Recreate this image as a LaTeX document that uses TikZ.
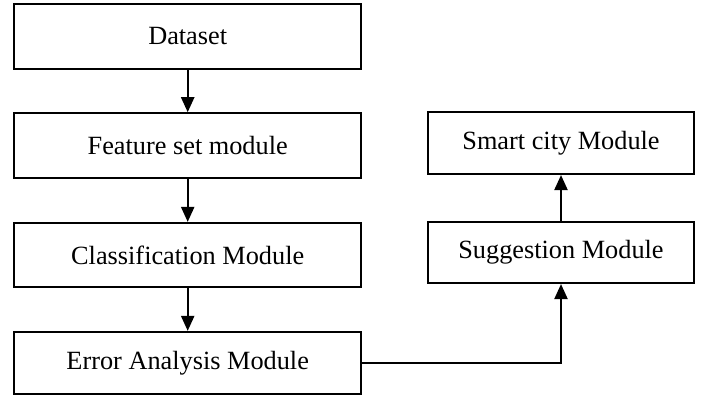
\documentclass[tikz,border=0pt]{standalone}
\usepackage{fontspec}
\setmainfont{Liberation Serif}
\usetikzlibrary{arrows.meta}
\begin{document}
\begin{tikzpicture}[x=1pt,y=1pt,
  box/.style={draw=black,line width=2.2pt,fill=white,inner sep=0pt,
    font=\fontsize{26.3}{30}\selectfont},
  conn/.style={line width=2.2pt,-{Triangle[width=13pt,length=15pt]}}]
\useasboundingbox (0,0) rectangle (703,396);
\node[box,minimum width=346.7pt,minimum height=65pt] (ds) at (187.7,359.5) {Dataset};
\node[box,minimum width=346.7pt,minimum height=64.7pt] (fs) at (187.7,250.3) {Feature set module};
\node[box,minimum width=346.7pt,minimum height=64pt] (cl) at (187.7,141) {Classification Module};
\node[box,minimum width=346.7pt,minimum height=62pt] (er) at (187.7,33) {Error Analysis Module};
\node[box,minimum width=266pt,minimum height=62.3pt] (sc) at (561,253.2) {Smart city Module};
\node[box,minimum width=266pt,minimum height=61.3pt] (sg) at (561,143.7) {Suggestion Module};
\draw[conn] (ds) -- (fs);
\draw[conn] (fs) -- (cl);
\draw[conn] (cl) -- (er);
\draw[conn] (er.east) -| (sg.south);
\draw[conn] (sg) -- (sc);
\end{tikzpicture}
\end{document}
